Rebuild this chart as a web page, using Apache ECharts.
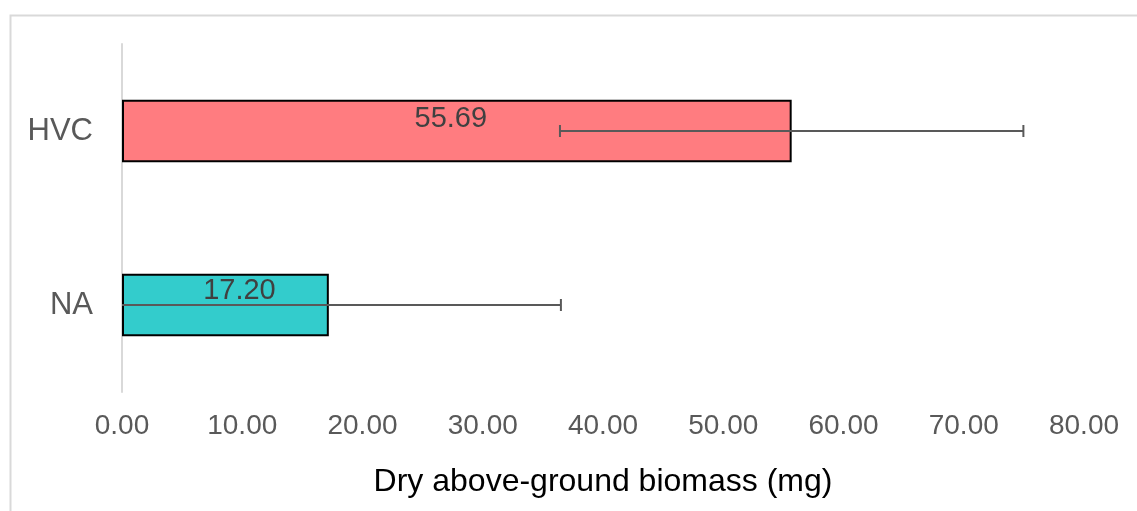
<!DOCTYPE html>
<html>
<head>
    <meta charset="utf-8">
    <title>Dry above-ground biomass</title>
    <script src="https://cdn.jsdelivr.net/npm/echarts@6/dist/echarts.min.js"></script>
    <style>
        html, body { margin: 0; padding: 0; background: #fff; }
    </style>
</head>
<body>
    <div id="main" style="width: 1137px;height:511px;"></div>
    <script type="text/javascript">
        // data (category axis goes bottom to top)
        var categories = ['NA', 'HVC'];
        var means = [17.20, 55.69];
        var errors = [19.3, 19.27];
        var barColors = ['#33CCCC', '#FF7C80'];
        var xTicks = [0, 80, 10];   // min, max, step

        var font = 'Liberation Sans, Arial, sans-serif';
        var myChart = echarts.init(document.getElementById('main'));

        var barData = means.map(function (v, i) {
            return {
                value: v,
                itemStyle: { color: barColors[i] },
                label: { offset: i === 0 ? [14, -14] : [-6, -12] }
            };
        });
        var errData = means.map(function (v, i) {
            return [i, v - errors[i], v + errors[i]];
        });

        var option = {
            animation: false,
            textStyle: { fontFamily: font },
            graphic: [{
                type: 'rect',
                left: 8, top: 13,
                shape: { width: 1200, height: 600 },
                style: { fill: 'none', stroke: '#d9d9d9', lineWidth: 2 },
                silent: true
            }],
            grid: { left: 122, right: 53, top: 44, bottom: 119 },
            xAxis: {
                type: 'value',
                min: xTicks[0], max: xTicks[1], interval: xTicks[2],
                axisLine: { show: false },
                axisTick: { show: false },
                splitLine: { show: false },
                axisLabel: {
                    margin: 20,
                    color: '#595959',
                    fontSize: 28,
                    fontFamily: font,
                    formatter: function (v) { return v.toFixed(2); }
                },
                name: 'Dry above-ground biomass (mg)',
                nameLocation: 'middle',
                nameGap: 74,
                nameTextStyle: { color: '#000', fontSize: 32, fontFamily: font }
            },
            yAxis: {
                type: 'category',
                data: categories,
                axisLine: { show: true, lineStyle: { color: '#d9d9d9', width: 2 } },
                axisTick: { show: false },
                axisLabel: { margin: 29, color: '#595959', fontSize: 31, fontFamily: font }
            },
            series: [{
                type: 'bar',
                barWidth: '36%',
                data: barData,
                itemStyle: { borderColor: '#000', borderWidth: 2 },
                label: {
                    show: true,
                    position: 'inside',
                    color: '#404040',
                    fontSize: 29,
                    fontFamily: font,
                    formatter: function (p) { return p.value.toFixed(2); }
                }
            }, {
                type: 'custom',
                data: errData,
                encode: { y: 0, x: [1, 2] },
                z: 5,
                renderItem: function (params, api) {
                    var idx = api.value(0);
                    var lo = api.value(1), hi = api.value(2);
                    var loClip = Math.max(lo, 0);
                    var p1 = api.coord([loClip, idx]);
                    var p2 = api.coord([hi, idx]);
                    var cap = 6;
                    var st = { stroke: '#595959', lineWidth: 2 };
                    var kids = [
                        { type: 'line', shape: { x1: p1[0], y1: p1[1], x2: p2[0], y2: p2[1] }, style: st },
                        { type: 'line', shape: { x1: p2[0], y1: p2[1] - cap, x2: p2[0], y2: p2[1] + cap }, style: st }
                    ];
                    if (lo >= 0) {
                        kids.push({ type: 'line', shape: { x1: p1[0], y1: p1[1] - cap, x2: p1[0], y2: p1[1] + cap }, style: st });
                    }
                    return { type: 'group', children: kids };
                }
            }]
        };
        myChart.setOption(option);
    </script>
</body>
</html>
